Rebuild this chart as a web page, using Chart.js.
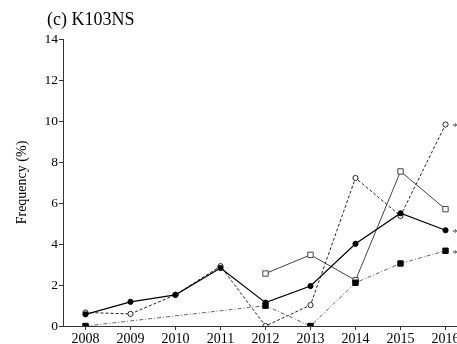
<!DOCTYPE html>
<html>
<head>
<meta charset="utf-8">
<script src="https://cdn.jsdelivr.net/npm/chart.js@4/dist/chart.umd.min.js"></script>
<style>
  html, body { margin: 0; padding: 0; background: #fff; overflow: hidden; }
  #wrap { position: absolute; left: 0; top: 0; width: 473px; height: 344px; }
</style>
</head>
<body>
<div id="wrap"><canvas id="c" width="473" height="344"></canvas></div>
<script>
// Years on the x axis
const years = ['2008', '2009', '2010', '2011', '2012', '2013', '2014', '2015', '2016'];
// Frequency (%) of K103NS, four series
const seriesFilledCircle = [0.57, 1.18, 1.52, 2.83, 1.14, 1.95, 4.01, 5.50, 4.67];
const seriesOpenCircle   = [0.66, 0.59, 1.52, 2.92, 0.00, 1.02, 7.22, 5.37, 9.83];
const seriesOpenSquare   = [null, null, null, null, 2.56, 3.47, 2.23, 7.54, 5.70];
const seriesFilledSquare = [0.00, null, null, null, 0.99, 0.00, 2.11, 3.05, 3.67];
// Y axis ticks
const yTicks = [0, 2, 4, 6, 8, 10, 12, 14];
const chartTitle = '(c) K103NS';
const yTitle = 'Frequency (%)';

const SERIF = "'Liberation Serif', 'Times New Roman', serif";

// Title text and significance asterisks at the last point of flagged series
const annotations = {
  id: 'annotations',
  afterDatasetsDraw(chart) {
    const ctx = chart.ctx;
    ctx.save();
    ctx.font = '11px ' + SERIF;
    ctx.fillStyle = '#444';
    ctx.textAlign = 'left';
    ctx.textBaseline = 'middle';
    chart.data.datasets.forEach((ds, i) => {
      if (!ds.starred) return;
      const meta = chart.getDatasetMeta(i);
      const pt = meta.data[meta.data.length - 1];
      ctx.fillText('*', pt.x + 7, pt.y + 3);
    });
    ctx.restore();
  },
  afterDraw(chart) {
    const ctx = chart.ctx;
    ctx.save();
    ctx.font = '18px ' + SERIF;
    ctx.fillStyle = '#000';
    ctx.textAlign = 'left';
    ctx.textBaseline = 'alphabetic';
    ctx.fillText(chartTitle, 47, 25);
    ctx.restore();
  }
};

new Chart(document.getElementById('c'), {
  type: 'line',
  data: {
    labels: years,
    datasets: [
      {
        data: seriesFilledCircle,
        borderColor: '#000',
        borderWidth: 1.2,
        pointStyle: 'circle',
        pointRadius: 2.6,
        pointBackgroundColor: '#000',
        pointBorderColor: '#000',
        pointBorderWidth: 1,
        starred: true
      },
      {
        data: seriesFilledSquare,
        borderColor: '#555',
        borderWidth: 0.9,
        borderDash: [4, 2, 1, 2],
        spanGaps: true,
        pointStyle: 'rect',
        pointRadius: 3.8,
        pointBackgroundColor: '#000',
        pointBorderColor: '#000',
        pointBorderWidth: 1,
        starred: true
      },
      {
        data: seriesOpenSquare,
        borderColor: '#444',
        borderWidth: 1,
        pointStyle: 'rect',
        pointRadius: 3.8,
        pointBackgroundColor: '#fff',
        pointBorderColor: '#444',
        pointBorderWidth: 1
      },
      {
        data: seriesOpenCircle,
        borderColor: '#222',
        borderWidth: 1,
        borderDash: [3, 2],
        pointStyle: 'circle',
        pointRadius: 2.6,
        pointBackgroundColor: '#fff',
        pointBorderColor: '#222',
        pointBorderWidth: 1,
        starred: true
      }
    ]
  },
  options: {
    responsive: false,
    animation: false,
    devicePixelRatio: 1,
    layout: { padding: { top: 39, left: 0, right: 0, bottom: 0 } },
    plugins: {
      legend: { display: false },
      tooltip: { enabled: false },
      title: { display: false }
    },
    elements: { line: { tension: 0 } },
    scales: {
      x: {
        type: 'category',
        offset: true,
        grid: {
          display: true,
          drawOnChartArea: false,
          drawTicks: true,
          tickLength: 4,
          color: '#333',
          offset: false
        },
        border: { display: true, color: '#333', width: 1 },
        ticks: {
          color: '#000',
          font: { family: SERIF, size: 14 },
          padding: 1,
          maxRotation: 0,
          autoSkip: false
        },
        afterFit(scale) { scale.height = 18; }
      },
      y: {
        min: 0,
        max: 14,
        afterBuildTicks(scale) { scale.ticks = yTicks.map(v => ({ value: v })); },
        grid: {
          display: true,
          drawOnChartArea: false,
          drawTicks: true,
          tickLength: 4,
          color: '#333'
        },
        border: { display: true, color: '#333', width: 1 },
        ticks: {
          color: '#000',
          font: { family: SERIF, size: 13.5 },
          padding: 1
        },
        title: {
          display: true,
          text: yTitle,
          color: '#000',
          font: { family: SERIF, size: 14 },
          padding: { top: 14, bottom: 0 }
        },
        afterFit(scale) { scale.width = 63; }
      }
    }
  },
  plugins: [annotations]
});
</script>
</body>
</html>
